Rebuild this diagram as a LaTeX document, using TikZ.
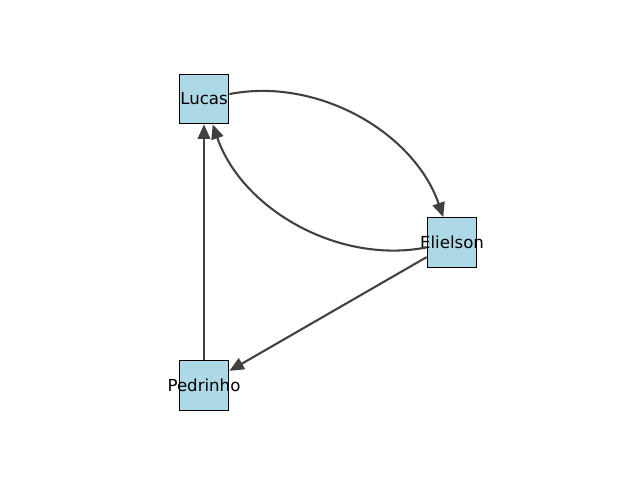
\documentclass[tikz,border=0pt]{standalone}
\usepackage{fontspec}
\setmainfont{DejaVu Sans}
\usetikzlibrary{arrows.meta}
\definecolor{boxblue}{HTML}{ADD8E6}
\definecolor{edgegray}{RGB}{64,64,64}
\begin{document}
\begin{tikzpicture}[x=0.0254cm, y=-0.0254cm,
    person/.style={draw=black, line width=0.72pt, fill=boxblue, minimum size=36pt,
        inner sep=0pt, font=\fontsize{12}{14}\selectfont},
    link/.style={draw=edgegray, line width=1.5pt,
        -{Triangle[length=10.5pt, width=9pt]}}]
    \useasboundingbox (0, 0) rectangle (640, 480);
    \node[person] (lucas) at (204, 99) {\makebox[0pt]{Lucas}};
    \node[person] (elielson) at (452, 242.5) {\makebox[0pt]{Elielson}};
    \node[person] (pedrinho) at (204, 385.5) {\makebox[0pt]{Pedrinho}};
    % edges
    \draw[link] (lucas) to[bend left=41, looseness=0.93] (elielson);
    \draw[link] (elielson) to[bend left=41, looseness=0.93] (lucas);
    \draw[link] (elielson) -- (pedrinho);
    \draw[link] (pedrinho) -- (lucas);
\end{tikzpicture}
\end{document}
